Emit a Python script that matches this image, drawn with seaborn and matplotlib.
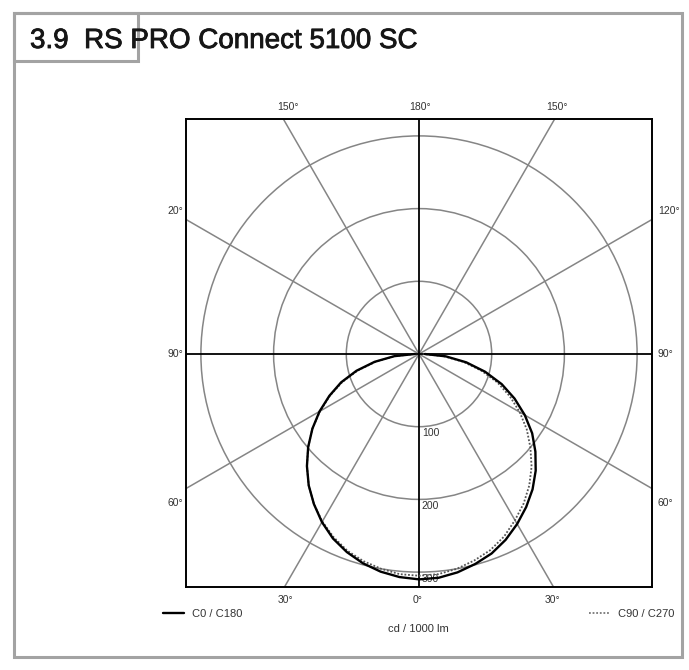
import numpy as np
import pandas as pd
import matplotlib
matplotlib.use("Agg")
import matplotlib.pyplot as plt
import matplotlib.patheffects as pe
from matplotlib.patches import Rectangle, Circle
from matplotlib.lines import Line2D
import seaborn as sns

# ---------------- data ----------------
gamma_deg = [0, 5, 10, 15, 20, 25, 30, 35, 40, 45, 50, 55, 60, 65, 70, 75, 80, 85, 90]
c0_cd   = [310, 309, 305, 299, 292, 282, 270, 257, 243, 227, 209, 190, 168, 145, 121, 94, 66, 37, 8]
c180_cd = [310, 308, 304, 298, 290, 280, 267, 252, 236, 218, 199, 179, 158, 136, 114, 89, 62, 34, 6]
c90_cd  = [305, 304, 300, 294, 287, 277, 264, 251, 236, 219, 200, 181, 160, 138, 115, 89, 62, 34, 6]
c270_cd = [305, 304, 300, 295, 288, 278, 266, 252, 236, 218, 199, 179, 157, 135, 112, 87, 60, 33, 6]

ring_values = [100, 200, 300]
spoke_deg = [30, 60, 120, 150]
title = "3.9  RS PRO Connect 5100 SC"
legend_solid = "C0 / C180"
legend_dotted = "C90 / C270"
unit_label = "cd / 1000 lm"
top_labels = ["150°", "180°", "150°"]
left_labels = ["20°", "90°", "60°"]
right_labels = ["120°", "90°", "60°"]
bottom_labels = ["30°", "0°", "30°"]

# ---------------- build curves ----------------
def plane_curve(left_vals, right_vals, name):
    g = np.radians(gamma_deg)
    lv = np.asarray(left_vals, float)
    rv = np.asarray(right_vals, float)
    xl = -lv * np.sin(g)
    yl = -lv * np.cos(g)
    xr = rv * np.sin(g)
    yr = -rv * np.cos(g)
    x = np.concatenate([xl[::-1], xr[1:]])
    y = np.concatenate([yl[::-1], yr[1:]])
    return pd.DataFrame({"x": x, "y": y, "plane": name})

df = pd.concat([plane_curve(c180_cd, c0_cd, legend_solid),
                plane_curve(c270_cd, c90_cd, legend_dotted)], ignore_index=True)

# ---------------- figure ----------------
sns.set_style("white")
plt.rcParams["font.family"] = ["Liberation Sans", "DejaVu Sans"]

W, H = 689, 670
fig = plt.figure(figsize=(W / 100, H / 100), dpi=100)

def fx(px):
    return px / W

def fy(py):
    return 1 - py / H

L, R, T, B = 186, 652, 119, 587
cx, cy = 419, 354
scale = 0.727  # px per cd

ax = fig.add_axes([fx(L), fy(B), (R - L) / W, (B - T) / H])
ax.set_xlim(-(cx - L) / scale, (R - cx) / scale)
ax.set_ylim(-(B - cy) / scale, (cy - T) / scale)
ax.set_aspect("auto")
ax.set_xticks([])
ax.set_yticks([])
for s in ax.spines.values():
    s.set_color("black")
    s.set_linewidth(1.4)

grid_c = "#858585"
for r in ring_values:
    ax.add_patch(Circle((0, 0), r, fill=False, ec=grid_c, lw=1.1, zorder=1))
for a in spoke_deg:
    t = np.radians(a)
    for sgn in (-1, 1):
        ax.plot([0, sgn * 700 * np.sin(t)], [0, -700 * np.cos(t)], color=grid_c, lw=1.1, zorder=1)
ax.axhline(0, color="black", lw=1.3, zorder=2)
ax.axvline(0, color="black", lw=1.3, zorder=2)

for r in ring_values:
    ax.text(4, -r - 2, str(r), fontsize=7.5, color="#333333", va="top", ha="left", zorder=3)

sns.lineplot(data=df[df.plane == legend_dotted], x="x", y="y", sort=False, estimator=None,
             color="#555555", lw=1.3, linestyle=(0, (1, 1)), ax=ax, zorder=4, legend=False)
sns.lineplot(data=df[df.plane == legend_solid], x="x", y="y", sort=False, estimator=None,
             color="black", lw=1.7, ax=ax, zorder=5, legend=False)
ax.set_xlabel("")
ax.set_ylabel("")

# ---------------- angle labels ----------------
lab_kw = dict(fontsize=7.5, color="#333333")
for px, t in zip([288, 420, 557], top_labels):
    fig.text(fx(px), fy(107), t, ha="center", va="center", **lab_kw)
for py, t in zip([211, 354, 503], left_labels):
    fig.text(fx(183), fy(py), t, ha="right", va="center", **lab_kw)
for py, t in zip([211, 354, 503], right_labels):
    fig.text(fx(658), fy(py), t, ha="left", va="center", **lab_kw)
for px, t in zip([285, 418, 552], bottom_labels):
    fig.text(fx(px), fy(600), t, ha="center", va="center", **lab_kw)

# ---------------- legend ----------------
h_solid = Line2D([], [], color="black", lw=1.7)
h_dot = Line2D([], [], color="#777777", lw=1.3, linestyle=(0, (1, 1)))
leg1 = fig.legend(handles=[h_solid], labels=[legend_solid], loc="center left",
                  bbox_to_anchor=(fx(163), fy(614)), frameon=False, fontsize=8,
                  handlelength=1.9, handletextpad=0.75, borderaxespad=0, borderpad=0)
leg2 = fig.legend(handles=[h_dot], labels=[legend_dotted], loc="center left",
                  bbox_to_anchor=(fx(589), fy(614)), frameon=False, fontsize=8,
                  handlelength=1.9, handletextpad=0.75, borderaxespad=0, borderpad=0)
for lg in (leg1, leg2):
    for tx in lg.get_texts():
        tx.set_color("#333333")
fig.text(fx(418), fy(629), unit_label, ha="center", va="center", fontsize=8, color="#333333")

# ---------------- frame & title ----------------
frame_c = "#a3a3a3"
fig.patches.append(Rectangle((fx(14), fy(657)), (682 - 14) / W, (657 - 13) / H,
                             transform=fig.transFigure, fill=False, ec=frame_c, lw=2.2))
fig.patches.append(Rectangle((fx(14), fy(61)), (138 - 14) / W, (61 - 13) / H,
                             transform=fig.transFigure, fill=False, ec=frame_c, lw=2.2, zorder=0))
fig.text(fx(30), fy(48), title, ha="left", va="baseline", fontsize=20, color="#161616",
         path_effects=[pe.withStroke(linewidth=0.6, foreground="#161616")])

fig.savefig("out.png", dpi=100, facecolor="white")
